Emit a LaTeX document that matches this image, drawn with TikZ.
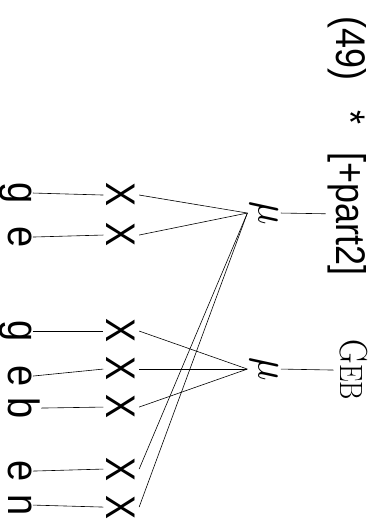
\documentclass[tikz,border=0pt]{standalone}
\usepackage{fontspec}
\newfontfamily\arialf{Liberation Sans}
\begin{document}
\begin{tikzpicture}[x=1pt,y=1pt,rotate=-90,yscale=1.15,transform shape,
  every node/.style={inner sep=0pt},
  leaf/.style={font=\arialf\fontsize{38}{38}\selectfont, anchor=base, inner sep=1pt},
  xnode/.style={font=\arialf\fontsize{36}{36}\selectfont, anchor=base, inner sep=3pt},
  munode/.style={scale=3.9, inner sep=0.4pt},
  toptext/.style={font=\arialf\fontsize{36}{36}\selectfont, anchor=base west, inner sep=2pt},
  edge/.style={line width=0.6pt}]
\useasboundingbox (0,0) rectangle (522,327.8);
% letters
\node[leaf] (l1) at (193,7) {g};
\node[leaf] (l2) at (237,7) {e};
\node[leaf] (l3) at (331,7) {g};
\node[leaf] (l4) at (376,7) {e};
\node[leaf] (l5) at (408,7) {b};
\node[leaf] (l6) at (471,7) {e};
\node[leaf] (l7) at (505,7) {n};
% X nodes
\node[xnode] (x1) at (195,93) {X};
\node[xnode] (x2) at (235,93) {X};
\node[xnode] (x3) at (331,93) {X};
\node[xnode] (x4) at (369,93) {X};
\node[xnode] (x5) at (407,93) {X};
\node[xnode] (x6) at (469,93) {X};
\node[xnode] (x7) at (507,93) {X};
% mu nodes
\node[munode] (m1) at (213,229.6) {$\mu$};
\node[munode] (m2) at (369,229.6) {$\mu$};
% top texts
\node[toptext] (num) at (14,292.8) {(49)};
\node[toptext, anchor=base] (star) at (118,292.8) {*};
\node[toptext] (root) at (150,292.8) {[+part2]};
\node[anchor=base, inner sep=5pt] (geb) at (370,295.7) {\fontsize{34}{34}\selectfont G\fontsize{28}{28}\selectfont EB};
% edges
\foreach \i in {1,...,7} \draw[edge] (l\i.north) -- (x\i.south);
\foreach \i in {1,2,6,7} \draw[edge] (x\i.north) -- (m1.south);
\foreach \i in {3,4,5} \draw[edge] (x\i.north) -- (m2.south);
\draw[edge] (m1.north) -- (root.south);
\draw[edge] (m2.north) -- (geb.south);
\end{tikzpicture}
\end{document}
